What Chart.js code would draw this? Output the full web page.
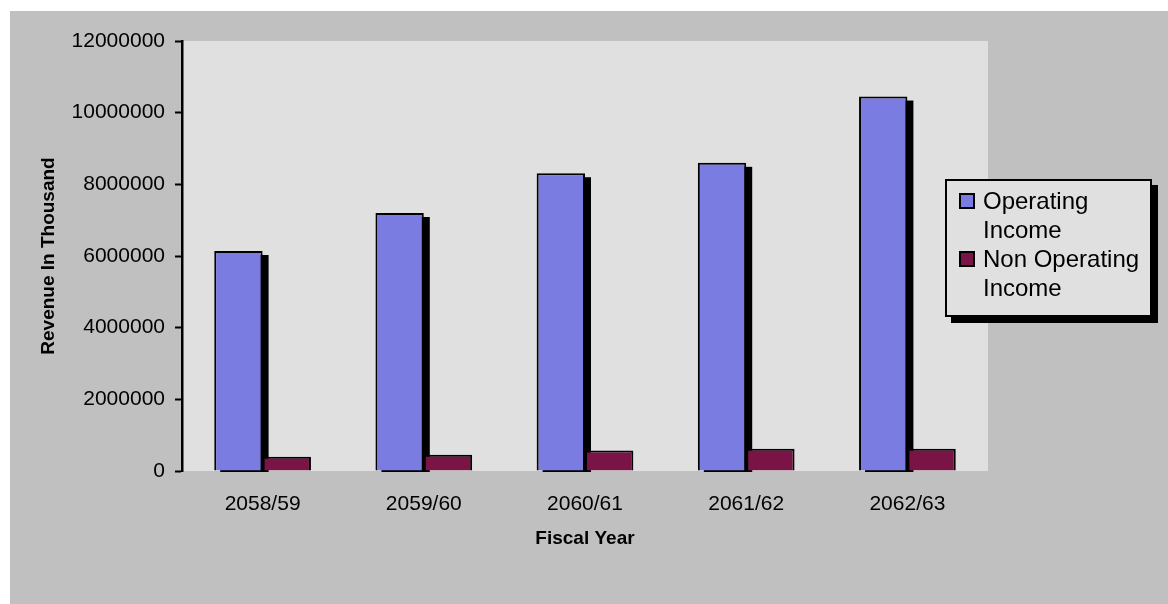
<!DOCTYPE html>
<html>
<head>
<meta charset="utf-8">
<title>Revenue by Fiscal Year</title>
<script src="https://cdn.jsdelivr.net/npm/chart.js@4/dist/chart.umd.min.js"></script>
<style>
    body { margin: 0; background: #fff; }
    #wrap { position: relative; width: 1168px; height: 604px; }
    #legend {
        position: absolute; left: 945px; top: 179px; width: 207px; height: 138px;
        box-sizing: border-box; border: 2px solid #000; background: #e0e0e0;
        box-shadow: 6px 6px 0 #000;
        font-family: "Liberation Sans", Arial, sans-serif; font-size: 24px; line-height: 29px;
        padding: 5px 2px 0 12px; color: #000;
    }
    #legend .item { position: relative; padding-left: 24px; }
    #legend .box {
        position: absolute; left: 0; top: 7px; width: 16px; height: 16px;
        box-sizing: border-box; border: 2px solid #000;
    }
</style>
</head>
<body>
<div id="wrap">
    <canvas id="revenueChart" width="1168" height="604"></canvas>
    <div id="legend"></div>
</div>
<script>
// Ingresos por año fiscal (en miles)
const years = ['2058/59', '2059/60', '2060/61', '2061/62', '2062/63'];
const operatingIncome = [6140000, 7200000, 8310000, 8600000, 10450000];
const nonOperatingIncome = [400000, 455000, 570000, 620000, 620000];
const yTicks = [0, 2000000, 4000000, 6000000, 8000000, 10000000, 12000000];

const FONT = '"Liberation Sans", Arial, sans-serif';

// Fondo gris, área de gráfico y sombra de las barras de ingresos operativos
const backdrop = {
    id: 'backdrop',
    beforeDraw(chart) {
        const { ctx, chartArea: a } = chart;
        ctx.save();
        ctx.fillStyle = '#c0c0c0';
        ctx.fillRect(10, 11, chart.width - 10, chart.height - 11);
        ctx.fillStyle = '#e0e0e0';
        ctx.fillRect(a.left, a.top, a.right - a.left, a.bottom - a.top);
        ctx.restore();
    },
    beforeDatasetsDraw(chart) {
        const { ctx } = chart;
        ctx.save();
        ctx.fillStyle = '#000';
        chart.getDatasetMeta(0).data.forEach(bar => {
            const left = bar.x - bar.width / 2;
            ctx.fillRect(left + 6, bar.y + 4, bar.width, bar.base - bar.y - 2.5);
        });
        ctx.restore();
    }
};

const chart = new Chart(document.getElementById('revenueChart'), {
    type: 'bar',
    data: {
        labels: years,
        datasets: [
            {
                label: 'Operating Income',
                data: operatingIncome,
                backgroundColor: '#7b7ce1',
                borderColor: '#000',
                borderWidth: 2
            },
            {
                label: 'Non Operating Income',
                data: nonOperatingIncome,
                backgroundColor: '#7a1446',
                borderColor: '#000',
                borderWidth: 2
            }
        ]
    },
    options: {
        responsive: false,
        animation: false,
        layout: { padding: { top: 41, right: 180, bottom: 0, left: 0 } },
        datasets: { bar: { categoryPercentage: 0.6, barPercentage: 1 } },
        plugins: {
            legend: { display: false },
            tooltip: { enabled: false }
        },
        scales: {
            x: {
                afterFit: s => { s.height = 133; },
                grid: { display: false, drawTicks: false },
                border: { display: false },
                ticks: { color: '#000', padding: 21, font: { family: FONT, size: 21 } },
                title: {
                    display: true, text: 'Fiscal Year', color: '#000',
                    font: { family: FONT, size: 19, weight: 'bold' },
                    padding: { top: 0, bottom: 54 }
                }
            },
            y: {
                min: 0,
                max: 12000000,
                afterFit: s => { s.width = 182; },
                afterBuildTicks: s => { s.ticks = yTicks.map(v => ({ value: v })); },
                grid: { drawOnChartArea: false, drawTicks: true, tickLength: 7, tickColor: '#000', tickWidth: 2 },
                border: { display: true, color: '#000', width: 2.5 },
                ticks: {
                    color: '#000', padding: 10,
                    font: { family: FONT, size: 21 },
                    callback: v => String(v)
                },
                title: {
                    display: true, text: 'Revenue In Thousand', color: '#000',
                    font: { family: FONT, size: 19, weight: 'bold' },
                    padding: { top: 37, bottom: 0 }
                }
            }
        }
    },
    plugins: [backdrop]
});

// Leyenda con los colores de cada serie
const legendEl = document.getElementById('legend');
chart.data.datasets.forEach(ds => {
    const item = document.createElement('div');
    item.className = 'item';
    const box = document.createElement('span');
    box.className = 'box';
    box.style.background = ds.backgroundColor;
    item.appendChild(box);
    item.appendChild(document.createTextNode(ds.label));
    legendEl.appendChild(item);
});
</script>
</body>
</html>
